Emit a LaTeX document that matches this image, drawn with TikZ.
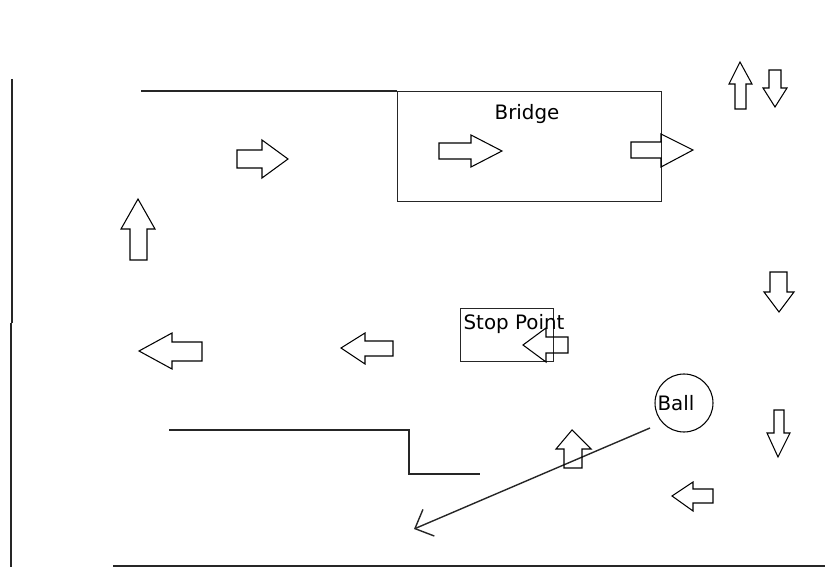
\documentclass[tikz,border=0pt]{standalone}
\usepackage{fontspec}
\setmainfont{DejaVu Sans}
\usetikzlibrary{arrows.meta}
\begin{document}
\begin{tikzpicture}[x=0.02cm,y=-0.02cm,
  wall/.style={draw=black!85,line width=0.8pt},
  blockarrow/.style={draw=black,line width=0.6pt,line join=miter},
  label/.style={font=\fontsize{11.3}{13}\selectfont,text=black,inner sep=0pt}]
\useasboundingbox (0,0) rectangle (825,567);

% outer walls
\draw[wall] (12,79) -- (12,323);
\draw[wall] (11,323) -- (11,567);
\draw[wall] (141,91) -- (397,91);
\draw[wall] (113,566) -- (825,566);
\draw[wall] (169,430) -- (409,430) -- (409,474) -- (480,474);

% bridge and stop point
\node[wall,draw,minimum width=264*0.02cm,minimum height=110*0.02cm,anchor=north west,inner sep=0pt] (bridge) at (397,91) {};
\node[label] (bridgelbl) at (527,114) {Bridge};
\node[wall,draw,minimum width=93*0.02cm,minimum height=53*0.02cm,anchor=north west,inner sep=0pt] (stop) at (460,308) {};
\node[label] (stoplbl) at (514,324) {Stop Point};

% ball and its path
\node[draw=black,line width=0.6pt,circle,minimum size=58*0.02cm,inner sep=0pt] (ball) at (684,403) {};
\node[label] (balllbl) at (676,403) {Ball};
\coordinate (kick) at (650,428);
\coordinate (land) at (414,529);
\draw[wall,-{Straight Barb[length=8.5pt,width=16.5pt,line width=0.8pt]}] (kick) -- (land);

% right-pointing block arrows
\draw[blockarrow] (237,150) -- (262,150) -- (262,140) -- (288,159) -- (262,178) -- (262,168) -- (237,168) -- cycle;
\draw[blockarrow] (439,143) -- (471,143) -- (471,135) -- (502,151) -- (471,167) -- (471,159) -- (439,159) -- cycle;
\draw[blockarrow] (631,142) -- (661,142) -- (661,134) -- (693,150) -- (661,167) -- (661,158) -- (631,158) -- cycle;

% left-pointing block arrows
\draw[blockarrow] (202,342) -- (172,342) -- (172,333) -- (139,351) -- (172,369) -- (172,361) -- (202,361) -- cycle;
\draw[blockarrow] (393,341) -- (365,341) -- (365,333) -- (341,348) -- (365,364) -- (365,356) -- (393,356) -- cycle;
\draw[blockarrow] (568,337) -- (546,337) -- (546,328) -- (523,345) -- (546,362) -- (546,353) -- (568,353) -- cycle;
\draw[blockarrow] (713,489) -- (693,489) -- (693,482) -- (672,496) -- (693,511) -- (693,503) -- (713,503) -- cycle;

% upward block arrows
\draw[blockarrow] (130,260) -- (130,229) -- (121,229) -- (138,199) -- (155,229) -- (147,229) -- (147,260) -- cycle;
\draw[blockarrow] (735,109) -- (735,84) -- (729,84) -- (740,62) -- (752,84) -- (746,84) -- (746,109) -- cycle;
\draw[blockarrow] (564,468) -- (564,449) -- (556,449) -- (572,430) -- (591,449) -- (582,449) -- (582,468) -- cycle;

% downward block arrows
\draw[blockarrow] (769,70) -- (769,88) -- (763,88) -- (775,107) -- (787,88) -- (781,88) -- (781,70) -- cycle;
\draw[blockarrow] (770,272) -- (770,292) -- (764,292) -- (779,312) -- (794,292) -- (787,292) -- (787,272) -- cycle;
\draw[blockarrow] (774,410) -- (774,433) -- (767,433) -- (778,457) -- (790,433) -- (784,433) -- (784,410) -- cycle;
\end{tikzpicture}
\end{document}
